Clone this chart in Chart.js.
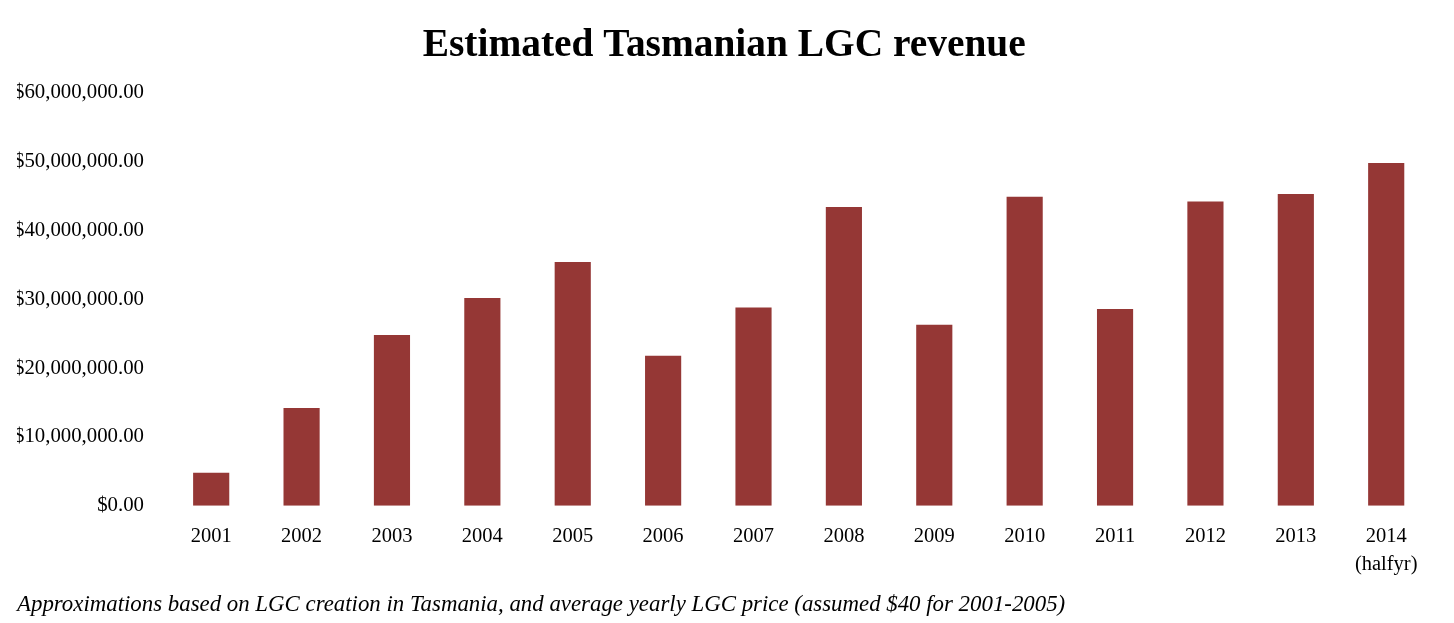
<!DOCTYPE html>
<html>
<head>
<meta charset="utf-8">
<script src="https://cdn.jsdelivr.net/npm/chart.js@4"></script>
<style>
  html, body { margin: 0; padding: 0; background: #fff; }
  #wrap { width: 1454px; height: 623px; }
</style>
</head>
<body>
<div id="wrap"><canvas id="c" width="1454" height="623"></canvas></div>
<script>
const titleText = 'Estimated Tasmanian LGC revenue';
const footnoteText = 'Approximations based on LGC creation in Tasmania, and average yearly LGC price (assumed $40 for 2001-2005)';
const years = ['2001','2002','2003','2004','2005','2006','2007','2008','2009','2010','2011','2012','2013',['2014','(halfyr)']];
const revenue = [4800000, 14200000, 24800000, 30200000, 35400000, 21800000, 28800000, 43400000, 26300000, 44900000, 28600000, 44200000, 45300000, 49800000];
const yMin = 0, yMax = 60000000, yStep = 10000000;

function money(v) {
  const s = Math.round(v).toString().replace(/\B(?=(\d{3})+(?!\d))/g, ',');
  return '$' + s + '.00';
}

const FONT = "'Liberation Serif', 'Times New Roman', serif";

new Chart(document.getElementById('c'), {
  type: 'bar',
  data: {
    labels: years,
    datasets: [{
      data: revenue,
      backgroundColor: '#953735',
      borderWidth: 0,
      barPercentage: 0.4,
      categoryPercentage: 1.0
    }]
  },
  options: {
    responsive: false,
    animation: false,
    devicePixelRatio: 1,
    layout: { padding: { left: 17, right: 22.6, top: 0, bottom: 0 } },
    plugins: {
      legend: { display: false },
      tooltip: { enabled: false },
      title: {
        display: true,
        text: titleText,
        color: '#000',
        font: { family: FONT, size: 39.4, weight: 'bold', lineHeight: 1.2 },
        padding: { top: 22.5, bottom: 23 }
      },
      subtitle: {
        display: true,
        position: 'bottom',
        align: 'start',
        text: footnoteText,
        color: '#000',
        font: { family: FONT, size: 22.85, style: 'italic', lineHeight: 1.2 },
        padding: { top: 5.4, bottom: 4.4 }
      }
    },
    scales: {
      x: {
        grid: { display: false, drawTicks: false },
        border: { display: false },
        afterFit: (scale) => { scale.height = 80; },
        ticks: {
          color: '#000',
          font: { family: FONT, size: 20.5, lineHeight: 28 / 20.5 },
          padding: 17,
          autoSkip: false,
          maxRotation: 0
        }
      },
      y: {
        min: yMin,
        max: yMax,
        grid: { display: false, drawTicks: false },
        border: { display: false },
        afterFit: (scale) => { scale.width = 149; },
        ticks: {
          stepSize: yStep,
          color: '#000',
          font: { family: FONT, size: 20.8 },
          padding: 22,
          callback: (v) => money(v)
        }
      }
    }
  }
});
</script>
</body>
</html>
